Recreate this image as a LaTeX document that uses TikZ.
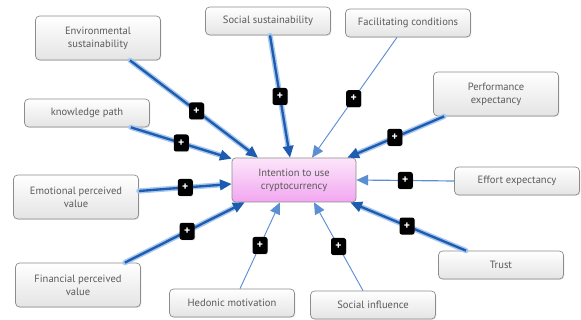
\documentclass[tikz,border=0pt]{standalone}
\usepackage{fontspec}
\setmainfont{PT Sans}
\usetikzlibrary{arrows.meta,shadows,calc}
\definecolor{txt}{HTML}{5A5A5A}
\definecolor{boxline}{HTML}{8C8C8C}
\definecolor{boxbot}{HTML}{E4E4E4}
\definecolor{pinktop}{HTML}{FCE6FB}
\definecolor{pinkbot}{HTML}{F2A6F0}
\definecolor{linkdark}{HTML}{1E5CB0}
\definecolor{linkglow}{HTML}{A9C8EE}
\definecolor{linkthin}{HTML}{5C8FD2}
\tikzset{
  factor/.style={draw=boxline, line width=0.6pt, rounded corners=3.5pt,
    top color=white, bottom color=boxbot, text=txt, align=center,
    minimum width=125*0.03cm, inner sep=1pt, font=\fontsize{9}{11}\selectfont,
    drop shadow={opacity=0.2, shadow xshift=0.8pt, shadow yshift=-0.8pt}},
  onel/.style={factor, minimum height=28*0.03cm},
  twol/.style={factor, minimum height=44*0.03cm},
  target/.style={draw=boxline, line width=0.6pt, rounded corners=3pt,
    top color=pinktop, bottom color=pinkbot, text=txt, align=center,
    minimum width=124*0.03cm, minimum height=44*0.03cm, inner sep=1pt,
    font=\fontsize{9}{11}\selectfont},
  plusmark/.style={fill=black, rounded corners=2pt, minimum width=15*0.03cm,
    minimum height=17*0.03cm, inner sep=0pt, text=white,
    font=\fontsize{10}{10}\selectfont\bfseries,
    drop shadow={opacity=0.25, shadow xshift=0.6pt, shadow yshift=-0.6pt}},
  strong/.style={draw=linkdark, line width=2pt,
    -{Triangle[length=10pt,width=9pt]},
    preaction={draw=linkglow, line width=4.5pt, -, shorten >=9pt, line cap=round}},
  weak/.style={draw=linkthin, line width=0.8pt,
    -{Triangle[length=10pt,width=9pt]}},
}
\begin{document}
\begin{tikzpicture}[x=0.03cm, y=-0.03cm]
\useasboundingbox (0,0) rectangle (581,320);

\node[twol] (env) at (98,38) {Environmental\\sustainability};
\node[onel] (soc) at (268,21) {Social sustainability};
\node[onel] (fac) at (408,23) {Facilitating conditions};
\node[twol] (perf) at (496,94) {Performance\\expectancy};
\node[onel] (kp) at (87,113) {knowledge path};
\node[twol] (emo) at (76,197) {Emotional perceived\\value};
\node[onel] (eff) at (517,181) {Effort expectancy};
\node[twol] (fin) at (78,285) {Financial perceived\\value};
\node[onel] (hed) at (232,303) {Hedonic motivation};
\node[onel] (si) at (373,305) {Social influence};
\node[onel] (tru) at (501,265) {Trust};
\node[target] (c) at (294,180) {Intention to use\\cryptocurrency};

\draw[strong] ($(env.south)+(32,0)$) -- ($(c.north)+(-36,0)$) node[plusmark, pos=0.52] (p1) {+};
\draw[strong] ($(soc.south)+(2,0)$) -- ($(c.north)+(-4,0)$) node[plusmark, pos=0.5] (p2) {+};
\draw[weak] ($(fac.south)+(-11,0)$) -- ($(c.north)+(18,0)$) node[plusmark, pos=0.51] (p3) {+};
\draw[strong] ($(perf.south west)+(11,0)$) -- ($(c.north east)+(-9,0)$) node[plusmark, pos=0.51] (p4) {+};
\draw[strong] ($(kp.south east)+(-19,0)$) -- ($(c.north west)+(0,1)$) node[plusmark, pos=0.5] (p5) {+};
\draw[strong] ($(emo.east)+(0,-6)$) -- ($(c.west)+(0,4)$) node[plusmark, pos=0.5] (p6) {+};
\draw[strong] ($(fin.north east)+(-16,0)$) -- ($(c.south west)+(13,0)$) node[plusmark, pos=0.52] (p7) {+};
\draw[weak] ($(hed.north)+(8,0)$) -- ($(c.south)+(-14,0)$) node[plusmark, pos=0.5] (p8) {+};
\draw[weak] ($(si.north)+(-10,0)$) -- ($(c.south)+(20,0)$) node[plusmark, pos=0.5] (p9) {+};
\draw[strong] ($(tru.north)+(-35,0)$) -- ($(c.south east)+(-6,0)$) node[plusmark, pos=0.51] (p10) {+};
\draw[weak, line width=1pt] (eff.west) -- (c.east) node[plusmark, pos=0.5] (p11) {+};
\end{tikzpicture}
\end{document}
